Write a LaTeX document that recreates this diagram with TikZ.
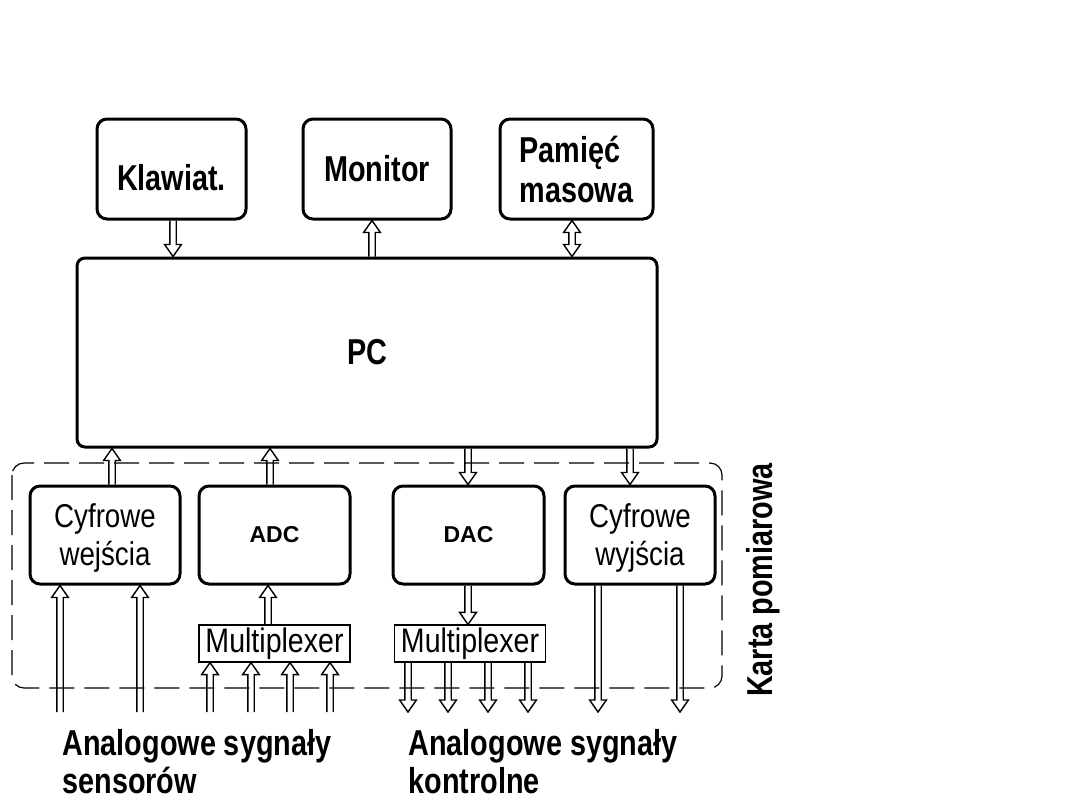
\documentclass[tikz,border=0pt]{standalone}
\usepackage{fontspec}
\setmainfont{Liberation Sans}
\newfontfamily\cond[FakeStretch=0.8]{Liberation Sans}
\newfontfamily\condr[FakeStretch=0.84]{Liberation Sans}
\usetikzlibrary{calc}
\newcommand{\harrow}[2]{%
  \draw[arrline] let \p1=(#1), \p2=(#2), \n1={sign(\y2-\y1)} in
    (\x1-1.6pt,\y1) -- (\x1-1.6pt,\y2-\n1*6pt) -- (\x1-4.2pt,\y2-\n1*6pt) -- (\x1,\y2)
    -- (\x1+4.2pt,\y2-\n1*6pt) -- (\x1+1.6pt,\y2-\n1*6pt) -- (\x1+1.6pt,\y1);}
\newcommand{\hdarrow}[2]{%
  \draw[arrline] let \p1=(#1), \p2=(#2), \n1={sign(\y2-\y1)} in
    (\x1,\y1) -- (\x1-4.2pt,\y1+\n1*6pt) -- (\x1-1.6pt,\y1+\n1*6pt) -- (\x1-1.6pt,\y2-\n1*6pt)
    -- (\x1-4.2pt,\y2-\n1*6pt) -- (\x1,\y2) -- (\x1+4.2pt,\y2-\n1*6pt) -- (\x1+1.6pt,\y2-\n1*6pt)
    -- (\x1+1.6pt,\y1+\n1*6pt) -- (\x1+4.2pt,\y1+\n1*6pt) -- cycle;}
\begin{document}
\begin{tikzpicture}[x=0.5pt,y=-0.5pt,
  box/.style={draw,line width=1.5pt,rounded corners=5pt,inner sep=0pt},
  bigbox/.style={box,minimum height=50pt,font=\cond\bfseries\fontsize{18}{20}\selectfont,align=left},
  lowbox/.style={box,minimum width=75pt,minimum height=49pt},
  mux/.style={draw,line width=0.6pt,minimum width=75.5pt,minimum height=18.5pt,inner sep=0pt,
    font=\condr\fontsize{17}{19}\selectfont},
  regtxt/.style={font=\condr\fontsize{16.5}{17}\selectfont,align=center},
  smalltxt/.style={font=\bfseries\fontsize{11.5}{13}\selectfont},
  lbl/.style={font=\cond\bfseries\fontsize{18}{19}\selectfont,align=left,inner sep=0pt},
  arrline/.style={line width=0.7pt,line join=miter},
  card/.style={draw,line width=0.6pt,dash pattern=on 12.5pt off 5pt,rounded corners=6pt}]
\useasboundingbox (0,0) rectangle (1080,810);
% top boxes
\node[bigbox,minimum width=74.5pt] (klaw) at (171.5,169) {\raisebox{-4.5pt}[\height][\depth]{Klawiat.}};
\node[bigbox,minimum width=74pt] (mon) at (377,169) {Monitor};
\node[bigbox,minimum width=76.5pt] (pam) at (576.5,169) {Pamięć\\masowa};
\node[box,minimum width=290pt,minimum height=94.5pt,rounded corners=4pt,
  font=\cond\bfseries\fontsize{18}{20}\selectfont] (pc) at (367,352.5) {PC};
% card frame
\draw[card] (12,463) rectangle (722,688);
\node[lbl,rotate=90] (karta) at (763,580) {Karta pomiarowa};
% lower boxes
\node[lowbox,regtxt] (cwe) at (105,535) {\raisebox{-1.5pt}[\height][\depth]{\shortstack{Cyfrowe\\wejścia}}};
\node[lowbox,minimum width=75.5pt,smalltxt] (adc) at (274.5,535) {ADC};
\node[lowbox,minimum width=75.5pt,smalltxt] (dac) at (468.5,535) {DAC};
\node[lowbox,regtxt] (cwy) at (640,535) {\raisebox{-1.5pt}[\height][\depth]{\shortstack{Cyfrowe\\wyjścia}}};
\node[mux] (muxa) at (274.5,643.5) {Multiplexer};
\node[mux] (muxb) at (470,643.5) {Multiplexer};
% bottom labels
\node[lbl,anchor=north west] (sens) at (62,729) {Analogowe sygnały\\sensorów};
\node[lbl,anchor=north west] (kont) at (408,729) {Analogowe sygnały\\kontrolne};
% coordinates for arrows
\coordinate (k1) at (173,0);
\coordinate (m1) at (372,0);
\coordinate (p1) at (572,0);
\coordinate (e1) at (112,0);
\coordinate (a1) at (270,0);
\coordinate (d1) at (468,0);
\coordinate (w1) at (630,0);
\coordinate (ma) at (268,0);
\coordinate (mb) at (468,0);
\foreach \c/\x in {i1/60,i2/140,s1/210,s2/251,s3/290,s4/330,o1/408,o2/448,o3/488,o4/528,y1/598,y2/680}
  \coordinate (\c) at (\x,712);
% top arrows
\harrow{k1 |- klaw.south}{k1 |- pc.north}
\harrow{m1 |- pc.north}{m1 |- mon.south}
\hdarrow{p1 |- pam.south}{p1 |- pc.north}
% PC <-> card
\harrow{e1 |- cwe.north}{e1 |- pc.south}
\harrow{a1 |- adc.north}{a1 |- pc.south}
\harrow{d1 |- pc.south}{d1 |- dac.north}
\harrow{w1 |- pc.south}{w1 |- cwy.north}
% mux
\harrow{ma |- muxa.north}{ma |- adc.south}
\harrow{mb |- dac.south}{mb |- muxb.north}
% inputs
\harrow{i1}{i1 |- cwe.south}
\harrow{i2}{i2 |- cwe.south}
\foreach \c in {s1,s2,s3,s4} {\harrow{\c}{\c |- muxa.south}}
\foreach \c in {o1,o2,o3,o4} {\harrow{\c |- muxb.south}{\c}}
\harrow{y1 |- cwy.south}{y1}
\harrow{y2 |- cwy.south}{y2}
\end{tikzpicture}
\end{document}
